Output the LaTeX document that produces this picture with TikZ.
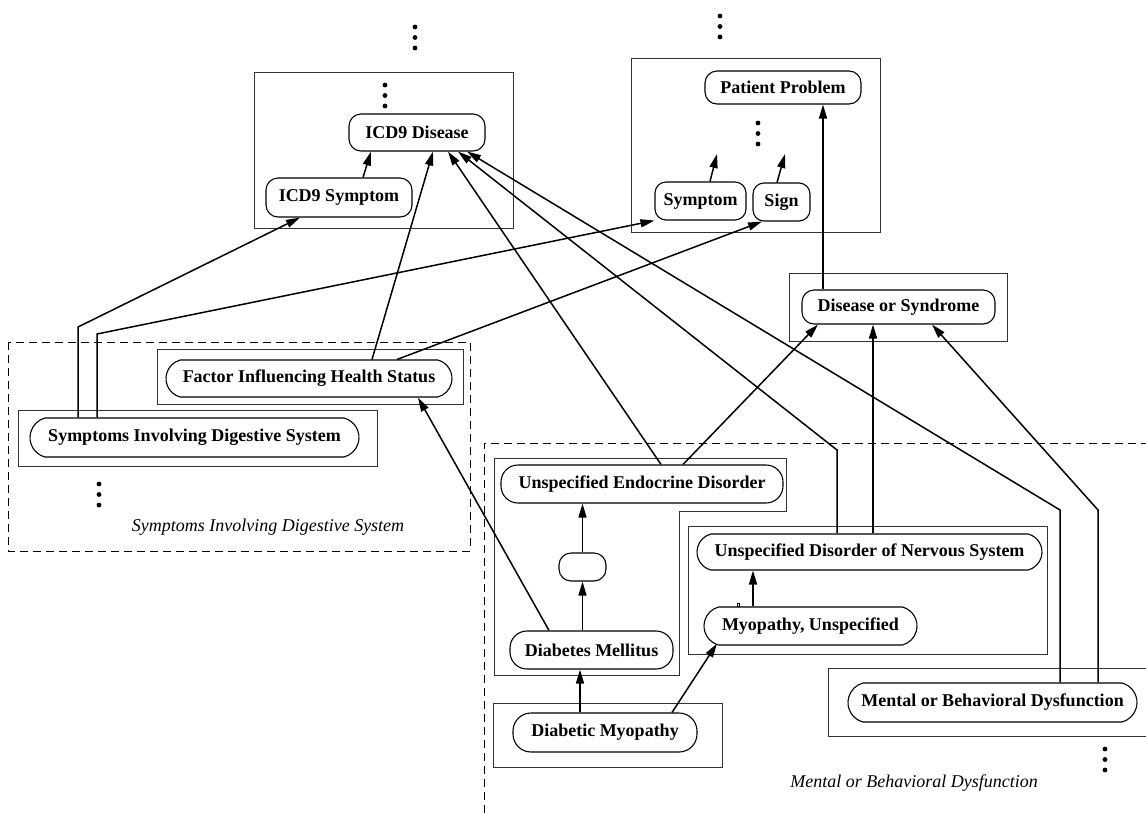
\documentclass[tikz,border=0pt]{standalone}
\usepackage{fontspec}
\setmainfont{Liberation Serif}
\usetikzlibrary{arrows.meta,shapes.misc}
\begin{document}
\begin{tikzpicture}[x=1pt,y=-1pt,
  lbl/.style={font=\bfseries\fontsize{18}{20}\selectfont, inner sep=0pt, line width=1.1pt},
  rbox/.style={lbl, draw, rectangle, rounded corners=#1},
  rbox/.default=12pt,
  pill/.style={lbl, draw, rounded rectangle, rounded rectangle arc length=150},
  outerbox/.style={draw=black!80, line width=1pt},
  zone/.style={draw, dash pattern=on 8pt off 5pt, line width=0.9pt},
  link/.style={line width=1.5pt, -{Triangle[length=14pt,width=8pt]}},
  italiclabel/.style={font=\itshape\fontsize{18}{20}\selectfont, inner sep=0pt}
]
\useasboundingbox (0,0) rectangle (1146,812);

% --- grouping frames ---
\draw[outerbox] (254,72) rectangle (513,228);
\draw[outerbox] (631,58) rectangle (880,232);
\draw[outerbox] (789,273) rectangle (1007,341);
\draw[outerbox] (157,349) rectangle (463,404);
\draw[outerbox] (18,410) rectangle (377,466);
\draw[outerbox] (494,458) -- (786,458) -- (786,511) -- (679,511) -- (679,675) -- (494,675) -- cycle;
\draw[outerbox] (688,526) rectangle (1047,654);
\draw[outerbox] (493,703) rectangle (722,767);
\draw[outerbox] (1147,668) -- (828,668) -- (828,736) -- (1147,736);

% --- dashed regions ---
\draw[zone] (8,342) rectangle (470,551);
\draw[zone] (484,813) -- (484,443) -- (1147,443);

% --- continuation dots ---
\foreach \px/\py in {415/27, 720/16, 385/85, 758/123, 99/484, 1105/749}{
  \foreach \k in {0,1,2}{
    \fill (\px,\py+10.5*\k) circle (2.4);
  }
}

% --- concept nodes ---
\node[rbox, minimum width=136pt, minimum height=37pt] (icdd) at (417,132.5) {ICD9 Disease};
\node[rbox, minimum width=146pt, minimum height=39pt] (icds) at (339,197.5) {ICD9 Symptom};
\node[rbox, minimum width=156pt, minimum height=33pt] (pp) at (783,87.5) {Patient Problem};
\node[rbox=11pt, minimum width=91pt, minimum height=38pt] (sym) at (700.5,201) {Symptom};
\node[rbox=11pt, minimum width=57pt, minimum height=38pt] (sign) at (781.5,202) {Sign};
\node[rbox, minimum width=193pt, minimum height=34pt] (dos) at (898.5,307) {Disease or Syndrome};
\node[pill, minimum width=329pt, minimum height=39pt] (sids) at (194.5,437.5) {Symptoms Involving Digestive System};
\node[pill, minimum width=286pt, minimum height=37pt] (fihs) at (309,378.5) {Factor Influencing Health Status};
\node[rbox=17pt, minimum width=282pt, minimum height=38pt] (ued) at (642,484) {Unspecified Endocrine Disorder};
\node[rbox=12pt, minimum width=47pt, minimum height=28pt] (blank) at (582.5,567) {};
\node[rbox=17pt, minimum width=163pt, minimum height=38pt] (dm) at (591.5,650) {Diabetes Mellitus};
\node[pill, minimum width=345pt, minimum height=36pt] (udns) at (869.5,552) {Unspecified Disorder of Nervous System};
\node[pill, minimum width=213pt, minimum height=38pt] (myo) at (810.5,626) {Myopathy, Unspecified};
\node[rbox=18pt, minimum width=184pt, minimum height=39pt] (diab) at (605,732.5) {Diabetic Myopathy};
\node[pill, minimum width=289pt, minimum height=39pt] (mbd) at (992.5,702.5) {Mental or Behavioral Dysfunction};

% --- region captions ---
\node[italiclabel] (capL) at (268,527) {Symptoms Involving Digestive System};
\node[italiclabel] (capR) at (914,783) {Mental or Behavioral Dysfunction};

% small mark beside the myopathy link
\draw[line width=0.6pt] (737,603) rectangle (739.5,606.5);

% --- open-ended links inside the problem frame ---
\coordinate (symup) at (717,154);
\coordinate (signup) at (785,154);
\draw[link] ([xshift=9.5pt]sym.north) -- (symup);
\draw[link] ([xshift=-4.5pt]sign.north) -- (signup);

% --- links ---
\draw[link] ([xshift=24pt]icds.north) -- ([xshift=-46pt]icdd.south);
\draw[link] ([xshift=-116.5pt]sids.north) -- (78,327) -- ([xshift=-39pt]icds.south);
\draw[link] ([xshift=-97.5pt]sids.north) -- (97,334) -- (sym.south west);
\draw[link] ([xshift=63pt]fihs.north) -- ([xshift=16pt]icdd.south);
\draw[link] ([xshift=88pt]fihs.north) -- ([xshift=-19.5pt]sign.south);
\draw[link] ([xshift=-42.5pt]dm.north) -- ([xshift=109pt]fihs.south);
\draw[link] ([xshift=19pt]ued.north) -- ([xshift=31pt]icdd.south);
\draw[link] ([xshift=41pt]ued.north) -- ([xshift=-80.5pt]dos.south);
\draw[link] ([xshift=-32.5pt]udns.north) -- (837,450) -- ([xshift=41pt]icdd.south);
\draw[link] ([xshift=3.5pt]udns.north) -- ([xshift=-25.5pt]dos.south);
\draw[link] ([xshift=67.5pt]mbd.north) -- (1060,510) -- ([xshift=50pt]icdd.south);
\draw[link] ([xshift=105.5pt]mbd.north) -- (1098,510) -- ([xshift=33.5pt]dos.south);
\draw[link] ([xshift=-75.5pt]dos.north) -- ([xshift=40pt]pp.south);
\draw[link] (blank.north) -- ([xshift=-59.5pt]ued.south);
\draw[link] ([xshift=-9pt]dm.north) -- (blank.south);
\draw[link] ([xshift=-25pt]diab.north) -- ([xshift=-11.5pt]dm.south);
\draw[link] ([xshift=67pt]diab.north) -- ([xshift=-93.5pt,yshift=2pt]myo.south);
\draw[link] ([xshift=-57.5pt]myo.north) -- ([xshift=-116.5pt]udns.south);
\end{tikzpicture}
\end{document}
